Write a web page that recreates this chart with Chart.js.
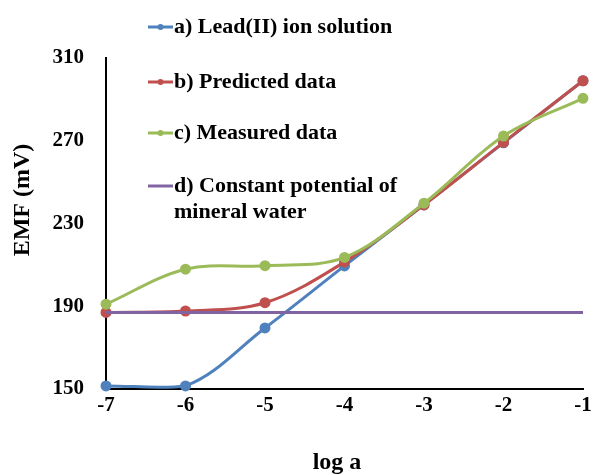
<!DOCTYPE html>
<html>
<head>
<meta charset="utf-8">
<script src="https://cdn.jsdelivr.net/npm/chart.js@4"></script>
<style>
  html, body { margin: 0; padding: 0; background: #fff; }
  #wrap { width: 593px; height: 475px; }
</style>
</head>
<body>
<div id="wrap"><canvas id="emfChart"></canvas></div>
<script>
// Data
const logA = [-7, -6, -5, -4, -3, -2, -1];
const leadIon = [151.5, 151.5, 179.5, 209.5, 239, 269, 299];
const predicted = [187, 187.7, 191.7, 211.4, 239, 269.2, 299];
const measured = [191, 207.9, 209.6, 213.6, 239.8, 272.3, 290.5];
const mineralWater = [187, 187, 187, 187, 187, 187, 187];
const yTicks = [150, 190, 230, 270, 310];

const seriesLabels = [
    'a) Lead(II) ion solution',
    'b) Predicted data',
    'c) Measured data',
    ['d) Constant potential of', 'mineral water']
];

const FONT = '"Liberation Serif", "Times New Roman", serif';

function toPoints(values) {
    return logA.map((x, i) => ({ x: x, y: values[i] }));
}

/**
 * Legend inside the plot and axis titles, placed as in the original figure
 */
const figureText = {
    id: 'figureText',
    afterDraw(chart) {
        const ctx = chart.ctx;
        const rows = [27, 82, 133, 186];
        ctx.save();
        ctx.font = 'bold 22px ' + FONT;
        ctx.textBaseline = 'middle';
        chart.data.datasets.forEach((ds, i) => {
            const y = rows[i];
            ctx.strokeStyle = ds.borderColor;
            ctx.lineWidth = 3;
            ctx.beginPath();
            ctx.moveTo(148, y);
            ctx.lineTo(173, y);
            ctx.stroke();
            if (ds.legendMarker) {
                ctx.fillStyle = ds.borderColor;
                ctx.beginPath();
                ctx.arc(160.5, y, 3, 0, Math.PI * 2);
                ctx.fill();
            }
            ctx.fillStyle = '#000';
            const lines = Array.isArray(ds.label) ? ds.label : [ds.label];
            lines.forEach((t, j) => ctx.fillText(t, 174, y + j * 26));
        });

        // axis titles
        ctx.font = 'bold 24px ' + FONT;
        ctx.textAlign = 'center';
        ctx.fillText('log a', 337, 463);
        ctx.translate(23, 200);
        ctx.rotate(-Math.PI / 2);
        ctx.fillText('EMF (mV)', 0, 0);
        ctx.restore();
    }
};

const ctx = document.getElementById('emfChart').getContext('2d');
new Chart(ctx, {
    type: 'line',
    data: {
        datasets: [
            {
                label: seriesLabels[0],
                data: toPoints(leadIon),
                borderColor: '#4F81BD',
                backgroundColor: '#4F81BD',
                legendMarker: true,
                order: 4
            },
            {
                label: seriesLabels[1],
                data: toPoints(predicted),
                borderColor: '#C0504D',
                backgroundColor: '#C0504D',
                legendMarker: true,
                order: 3
            },
            {
                label: seriesLabels[2],
                data: toPoints(measured),
                borderColor: '#9BBB59',
                backgroundColor: '#9BBB59',
                legendMarker: true,
                order: 2
            },
            {
                label: seriesLabels[3],
                data: toPoints(mineralWater),
                borderColor: '#8064A2',
                backgroundColor: '#8064A2',
                pointRadius: 0,
                tension: 0,
                legendMarker: false,
                order: 1
            }
        ]
    },
    options: {
        responsive: true,
        maintainAspectRatio: false,
        animation: false,
        layout: { padding: { top: 58, right: 10, left: 0, bottom: 0 } },
        datasets: {
            line: {
                borderWidth: 3,
                pointRadius: 4,
                pointHoverRadius: 4,
                tension: 0.35,
                clip: false
            }
        },
        plugins: {
            legend: { display: false },
            tooltip: { enabled: false }
        },
        scales: {
            x: {
                type: 'linear',
                min: -7,
                max: -1,
                afterFit: (scale) => {
                    scale.height = 86;
                    scale.paddingLeft = 0;
                    scale.paddingRight = 0;
                },
                grid: { display: false, drawTicks: false },
                border: { display: true, color: '#000', width: 2 },
                ticks: {
                    stepSize: 1,
                    padding: 4,
                    color: '#000',
                    font: { family: FONT, size: 21, weight: 'bold' }
                }
            },
            y: {
                min: 150,
                max: 310,
                afterFit: (scale) => { scale.width = 106; },
                afterBuildTicks: (scale) => { scale.ticks = yTicks.map(v => ({ value: v })); },
                grid: { display: false, drawTicks: false },
                border: { display: true, color: '#000', width: 2 },
                ticks: {
                    padding: 22,
                    color: '#000',
                    font: { family: FONT, size: 21, weight: 'bold' }
                }
            }
        }
    },
    plugins: [figureText]
});
</script>
</body>
</html>
